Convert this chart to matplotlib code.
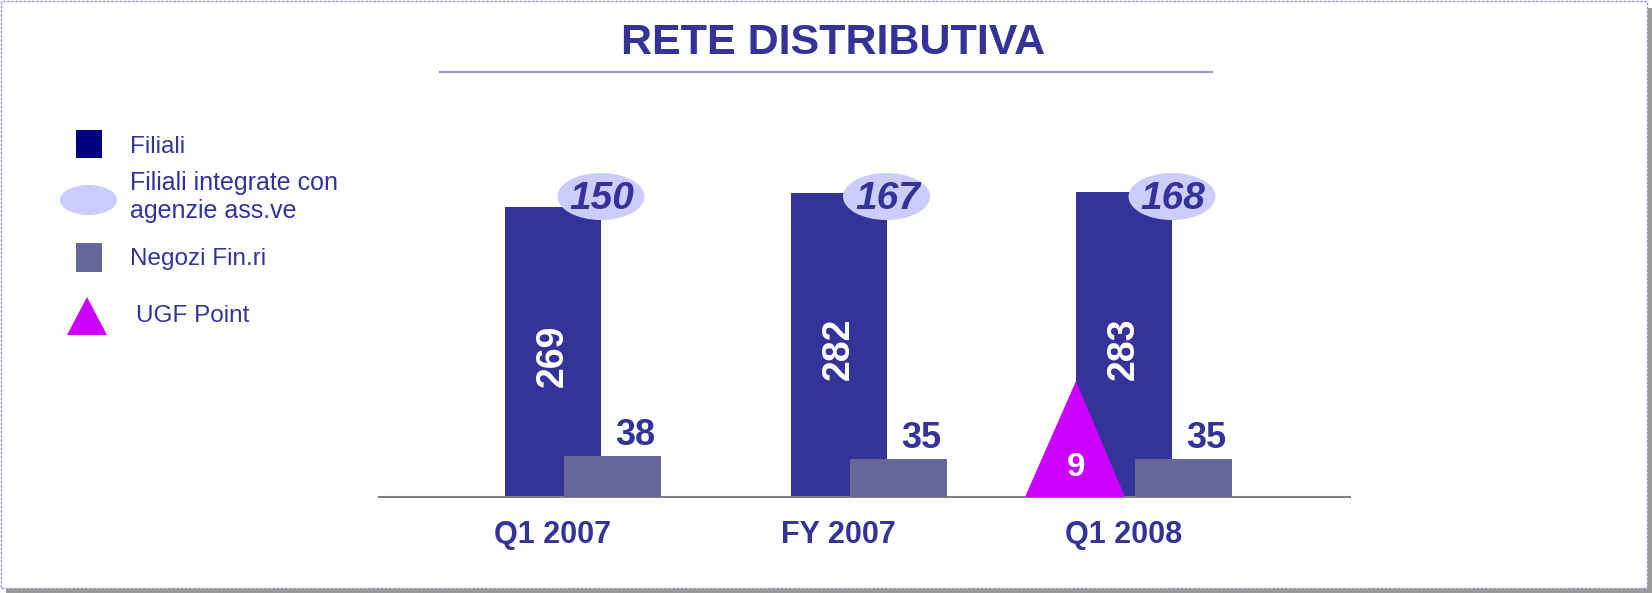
import matplotlib
matplotlib.use('Agg')
import matplotlib.pyplot as plt
from matplotlib.patches import Ellipse, Polygon, Rectangle
from matplotlib.lines import Line2D

plt.rcParams['font.family'] = ['Liberation Sans', 'DejaVu Sans']

# Dati
categorie = ['Q1 2007', 'FY 2007', 'Q1 2008']
filiali = [269, 282, 283]
filiali_integrate = [150, 167, 168]
negozi = [38, 35, 35]
ugf_point = [None, None, 9]

# Colori
BLU = '#333399'
BLU_LEGENDA = '#000080'
GRIGIO_BLU = '#666699'
LILLA = '#ccccff'
MAGENTA = '#cc00ff'

W, H = 1652, 593
fig = plt.figure(figsize=(W / 100, H / 100), dpi=100)


def fx(px):
    return px / W


def fy(py):
    return 1 - py / H


# Cornice con ombra
fig.add_artist(Rectangle((fx(6), fy(593)), fx(1646), (593 - 8) / H,
                         transform=fig.transFigure, facecolor='#999999',
                         edgecolor='none', zorder=-20))
fig.add_artist(Rectangle((fx(1), fy(588)), fx(1646), 587 / H,
                         transform=fig.transFigure, facecolor='white',
                         edgecolor='#9999cc', linewidth=1,
                         linestyle=(0, (2, 1)), zorder=-10))

# Titolo
fig.text(fx(833), fy(43), 'RETE DISTRIBUTIVA', fontsize=31, fontweight='bold',
         color=BLU, ha='center', va='center')
fig.add_artist(Line2D([fx(440), fx(1212)], [fy(71.5), fy(71.5)],
                      transform=fig.transFigure, color='#9999cc', linewidth=1.6))

# Area del grafico
ax_l, ax_r, ax_t, ax_b = 379, 1350, 100, 497
ax = fig.add_axes([fx(ax_l), fy(ax_b), (ax_r - ax_l) / W, (ax_b - ax_t) / H])
ax.set_facecolor('none')
xmin, xmax = -0.6095, 2.7916
px_y = 1.077
ymax = (ax_b - ax_t) / px_y
ax.set_xlim(xmin, xmax)
ax.set_ylim(0, ymax)
px_x = (ax_r - ax_l) / (xmax - xmin)

for s in ['top', 'right', 'left']:
    ax.spines[s].set_visible(False)
ax.spines['bottom'].set_color('#808080')
ax.spines['bottom'].set_linewidth(1.5)
ax.set_xticks([])
ax.set_yticks([])

x = list(range(len(categorie)))
off_neg = 59.5 / px_x

ax.bar(x, filiali, width=96 / px_x, color=BLU, zorder=2)
ax.bar([xi + off_neg for xi in x], negozi, width=97 / px_x, color=GRIGIO_BLU, zorder=3)

# le ellissi stanno circa alla stessa altezza, vicino alla barra più alta
cy = max(filiali) - 4

for xi, cat, f, fi, n, u in zip(x, categorie, filiali, filiali_integrate, negozi, ugf_point):
    # etichetta categoria
    ax.annotate(cat, xy=(xi, 0), xytext=(0, -38), textcoords='offset pixels',
                ha='center', va='center', fontsize=22, fontweight='bold', color=BLU,
                annotation_clip=False)
    # valore filiali dentro la barra
    ax.annotate(str(f), xy=(xi, f / 2), xytext=(0, -4), textcoords='offset pixels',
                rotation=90, ha='center', va='center',
                fontsize=27, fontweight='bold', color='white', zorder=5)
    # valore negozi
    ax.annotate(str(n), xy=(xi + off_neg, n), xytext=(23, 21), textcoords='offset pixels',
                ha='center', va='center', fontsize=26, fontweight='bold', color=BLU)
    # ellisse filiali integrate
    cx = xi + 48 / px_x
    ax.add_patch(Ellipse((cx, cy), 87 / px_x, 47 / px_y, facecolor=LILLA,
                         edgecolor='none', zorder=6))
    ax.annotate(str(fi), xy=(cx, cy), xytext=(1, -2), textcoords='offset pixels',
                ha='center', va='center', fontsize=28,
                fontweight='bold', fontstyle='italic', color=BLU, zorder=7)
    # triangolo UGF Point
    if u is not None:
        apice = xi - 48 / px_x
        base_c = xi - 49 / px_x
        tri = Polygon([(base_c - 50 / px_x, 0), (base_c + 50 / px_x, 0),
                       (apice, 116 / px_y)], closed=True, facecolor=MAGENTA,
                      edgecolor='none', zorder=4)
        ax.add_patch(tri)
        ax.text(apice, 29 / px_y, str(u), ha='center', va='center', fontsize=24,
                fontweight='bold', color='white', zorder=5)

# Legenda
fig.add_artist(Rectangle((fx(76), fy(158)), fx(26), 28 / H, transform=fig.transFigure,
                         facecolor=BLU_LEGENDA, edgecolor='none'))
fig.text(fx(130), fy(147), 'Filiali', fontsize=17.5, color=BLU, va='center')

fig.add_artist(Ellipse((fx(88.5), fy(200)), fx(57), 30 / H, transform=fig.transFigure,
                       facecolor=LILLA, edgecolor='none'))
fig.text(fx(130), fy(183), 'Filiali integrate con', fontsize=18, color=BLU, va='center')
fig.text(fx(130), fy(211), 'agenzie ass.ve', fontsize=18, color=BLU, va='center')

fig.add_artist(Rectangle((fx(76), fy(272)), fx(26), 29 / H, transform=fig.transFigure,
                         facecolor=GRIGIO_BLU, edgecolor='none'))
fig.text(fx(130), fy(259), 'Negozi Fin.ri', fontsize=17.5, color=BLU, va='center')

fig.add_artist(Polygon([(fx(67), fy(335)), (fx(107), fy(335)), (fx(87), fy(297))],
                       closed=True, transform=fig.transFigure, facecolor=MAGENTA,
                       edgecolor='none'))
fig.text(fx(136), fy(316), 'UGF Point', fontsize=17.5, color=BLU, va='center')

fig.savefig('out.png', dpi=100)
